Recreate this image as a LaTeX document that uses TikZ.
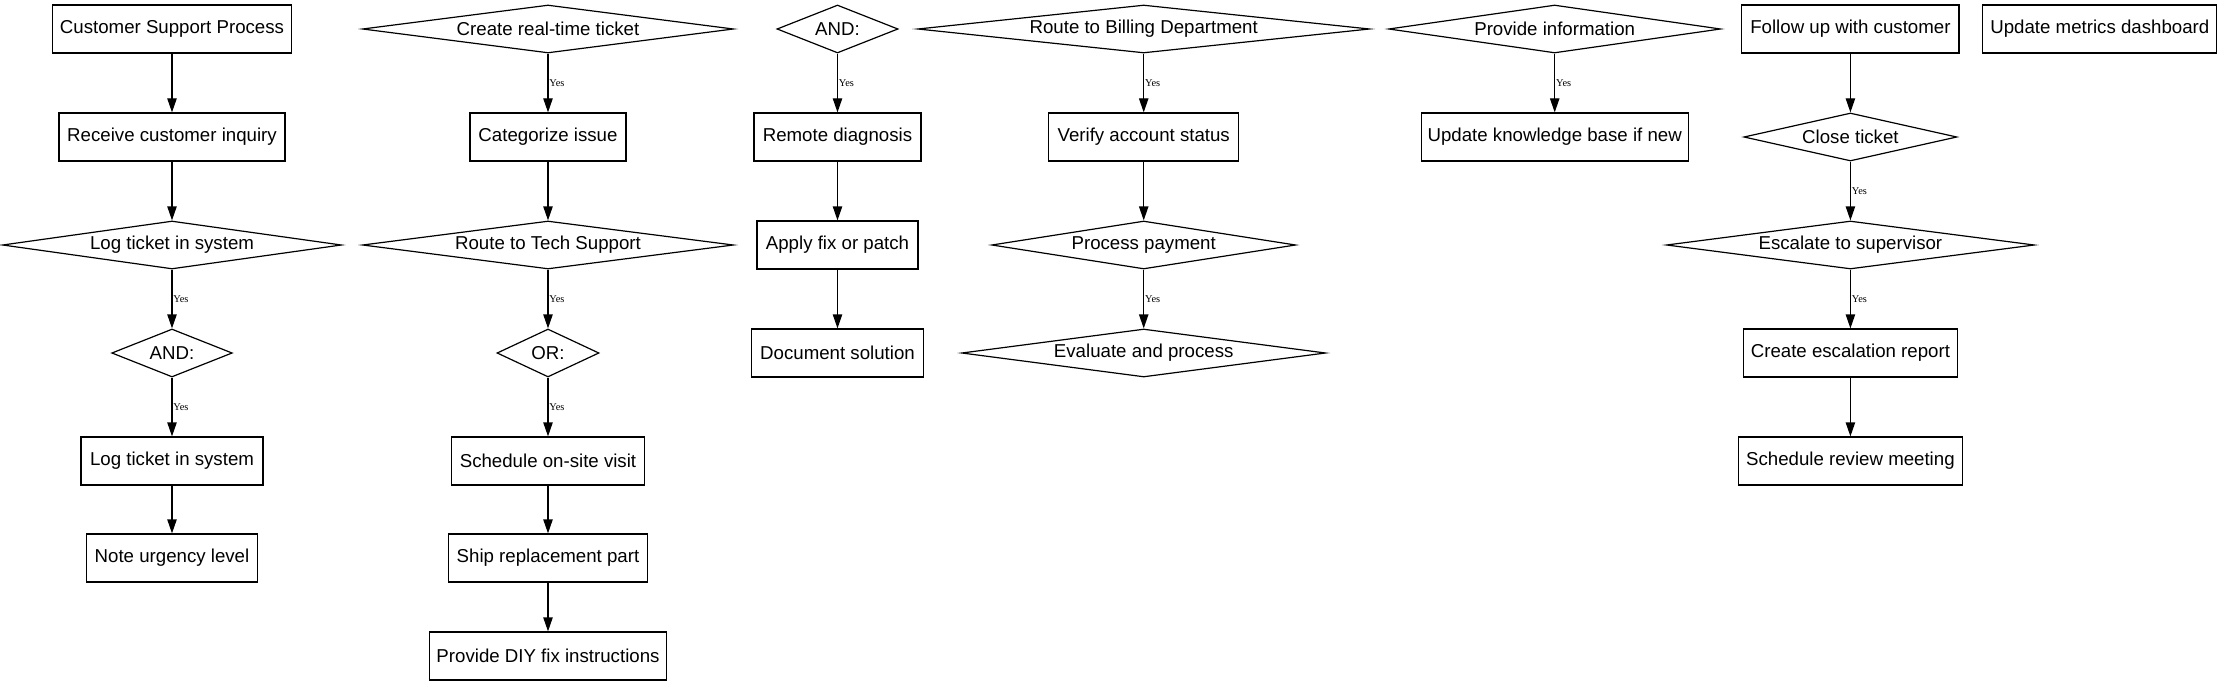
\documentclass[tikz,border=0pt]{standalone}
\usepackage{fontspec}
\setmainfont{Liberation Sans}
\newfontfamily\yesfont{Liberation Serif}
\usetikzlibrary{shapes.geometric,arrows.meta}
\tikzset{
  base/.style={draw=black, line width=0.9pt, inner sep=0pt, minimum height=36pt,
    font=\fontsize{14pt}{16pt}\selectfont, text=black},
  box/.style={base, rectangle, minimum width=#1},
  dia/.style 2 args={base, diamond, minimum width=#1, aspect=#2},
  arr/.style={draw=black, line width=0.9pt, -{Triangle[length=10.5pt,width=7pt]}},
  yes/.style={midway, right, inner sep=0.6pt, font=\yesfont\fontsize{7.8pt}{8pt}\selectfont}
}
\begin{document}
\begin{tikzpicture}[x=0.75pt, y=-0.75pt]
\useasboundingbox (0,0) rectangle (2223,685);
% column 1
\node[box=179.6pt] (c1a) at (172,29) {Customer Support Process};
\node[box=169.5pt] (c1b) at (172,137) {Receive customer inquiry};
\node[dia={254.3pt}{7.06}] (c1c) at (172,245) {Log ticket in system};
\node[dia={90.4pt}{2.5}] (c1d) at (172,353) {AND:};
\node[box=136.5pt] (c1e) at (172,461) {Log ticket in system};
\node[box=128.3pt] (c1f) at (172,558) {Note urgency level};
\draw[arr] (c1a.south) -- (c1b.north);
\draw[arr] (c1b.south) -- (c1c.north);
\draw[arr] (c1c.south) -- (c1d.north) node[yes] (y1a) {Yes};
\draw[arr] (c1d.south) -- (c1e.north) node[yes] (y1b) {Yes};
\draw[arr] (c1e.south) -- (c1f.north);
% column 2
\node[dia={278.3pt}{7.7}] (c2a) at (548,29) {Create real-time ticket};
\node[box=117pt] (c2b) at (548,137) {Categorize issue};
\node[dia={278.3pt}{7.7}] (c2c) at (548,245) {Route to Tech Support};
\node[dia={76.5pt}{2.1}] (c2d) at (548,353) {OR:};
\node[box=144.8pt] (c2e) at (548,461) {Schedule on-site visit};
\node[box=149.3pt] (c2f) at (548,558) {Ship replacement part};
\node[box=178.1pt] (c2g) at (548,656) {Provide DIY fix instructions};
\draw[arr] (c2a.south) -- (c2b.north) node[yes] (y2a) {Yes};
\draw[arr] (c2b.south) -- (c2c.north);
\draw[arr] (c2c.south) -- (c2d.north) node[yes] (y2b) {Yes};
\draw[arr] (c2d.south) -- (c2e.north) node[yes] (y2c) {Yes};
\draw[arr] (c2e.south) -- (c2f.north);
\draw[arr] (c2f.south) -- (c2g.north);
% column 3
\node[dia={90.8pt}{2.5}] (c3a) at (837.5,29) {AND:};
\node[box=125.3pt] (c3b) at (837.5,137) {Remote diagnosis};
\node[box=120.8pt] (c3c) at (837.5,245) {Apply fix or patch};
\node[box=129pt] (c3d) at (837.5,353) {Document solution};
\draw[arr] (c3a.south) -- (c3b.north) node[yes] (y3a) {Yes};
\draw[arr] (c3b.south) -- (c3c.north);
\draw[arr] (c3c.south) -- (c3d.north);
% column 4
\node[dia={339pt}{9.4}] (c4a) at (1143.7,29) {Route to Billing Department};
\node[box=142.5pt] (c4b) at (1143.7,137) {Verify account status};
\node[dia={228pt}{6.3}] (c4c) at (1143.7,245) {Process payment};
\node[dia={273pt}{7.6}] (c4d) at (1143.7,353) {Evaluate and process};
\draw[arr] (c4a.south) -- (c4b.north) node[yes] (y4a) {Yes};
\draw[arr] (c4b.south) -- (c4c.north);
\draw[arr] (c4c.south) -- (c4d.north) node[yes] (y4b) {Yes};
% column 5
\node[dia={249pt}{6.9}] (c5a) at (1554.7,29) {Provide information};
\node[box=200.3pt] (c5b) at (1554.7,137) {Update knowledge base if new};
\draw[arr] (c5a.south) -- (c5b.north) node[yes] (y5a) {Yes};
% column 6
\node[box=162.8pt] (c6a) at (1850.4,29) {Follow up with customer};
\node[dia={159.8pt}{4.44}] (c6b) at (1850.4,137) {Close ticket};
\node[dia={276pt}{7.67}] (c6c) at (1850.4,245) {Escalate to supervisor};
\node[box=160.9pt] (c6d) at (1850.4,353) {Create escalation report};
\node[box=168pt] (c6e) at (1850.4,461) {Schedule review meeting};
\draw[arr] (c6a.south) -- (c6b.north);
\draw[arr] (c6b.south) -- (c6c.north) node[yes] (y6a) {Yes};
\draw[arr] (c6c.south) -- (c6d.north) node[yes] (y6b) {Yes};
\draw[arr] (c6d.south) -- (c6e.north);
% column 7
\node[box=175.5pt] (c7a) at (2099.8,29) {Update metrics dashboard};
\end{tikzpicture}
\end{document}
